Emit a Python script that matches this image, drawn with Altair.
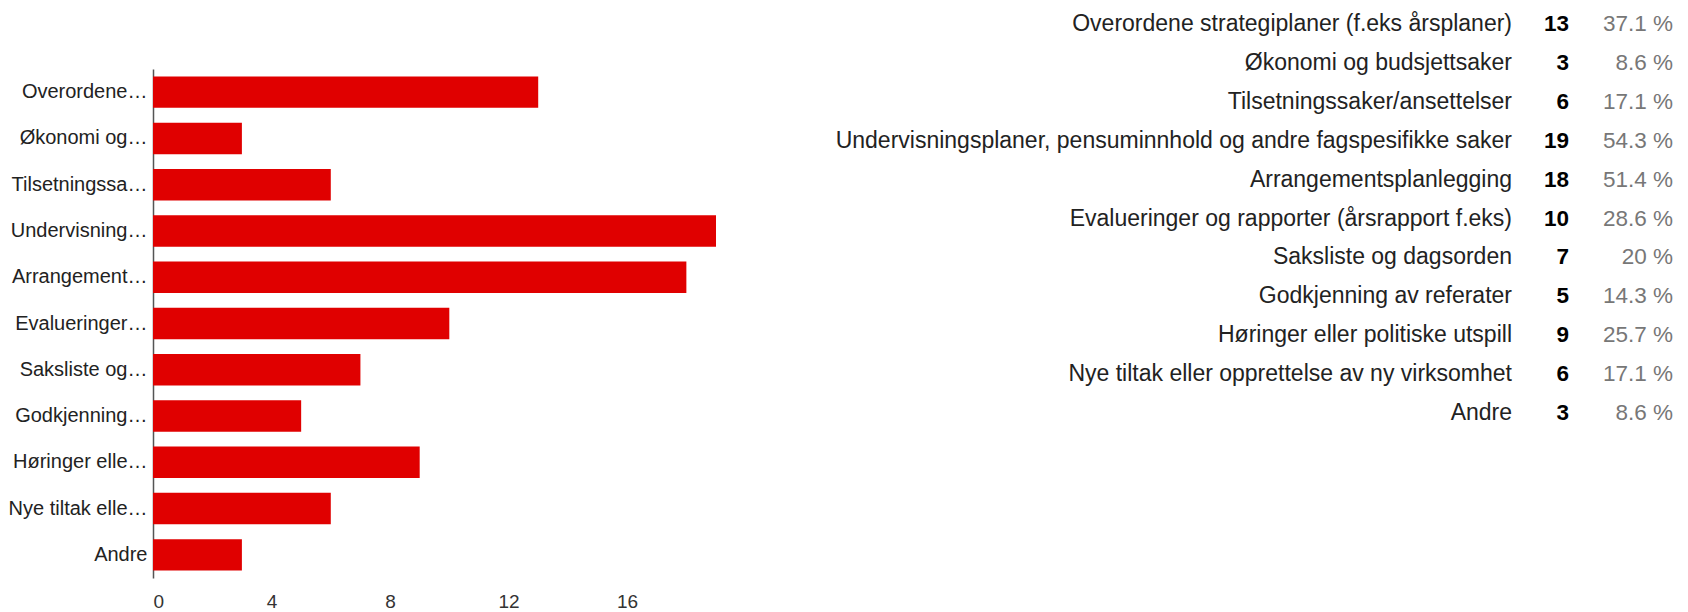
import altair as alt
import pandas as pd

# Data
short_labels = ["Overordene…", "Økonomi og…", "Tilsetningssa…", "Undervisning…",
                "Arrangement…", "Evalueringer…", "Saksliste og…", "Godkjenning…",
                "Høringer elle…", "Nye tiltak elle…", "Andre"]
full_labels = ["Overordene strategiplaner (f.eks årsplaner)",
               "Økonomi og budsjettsaker",
               "Tilsetningssaker/ansettelser",
               "Undervisningsplaner, pensuminnhold og andre fagspesifikke saker",
               "Arrangementsplanlegging",
               "Evalueringer og rapporter (årsrapport f.eks)",
               "Saksliste og dagsorden",
               "Godkjenning av referater",
               "Høringer eller politiske utspill",
               "Nye tiltak eller opprettelse av ny virksomhet",
               "Andre"]
counts = [13, 3, 6, 19, 18, 10, 7, 5, 9, 6, 3]
percents = ["37.1 %", "8.6 %", "17.1 %", "54.3 %", "51.4 %", "28.6 %",
            "20 %", "14.3 %", "25.7 %", "17.1 %", "8.6 %"]
x_ticks = [0, 4, 8, 12, 16]

df = pd.DataFrame({"short": short_labels, "label": full_labels,
                   "count": counts, "pct": percents})

FONT = "Liberation Sans"

bars = alt.Chart(df).mark_bar(color="#e00000").encode(
    x=alt.X("count:Q", title=None,
            scale=alt.Scale(domain=[0, 19], nice=False),
            axis=alt.Axis(values=x_ticks, grid=False, domain=False, ticks=False,
                          labelFontSize=19, labelColor="#333333", labelFont=FONT,
                          labelPadding=14)),
    y=alt.Y("short:N", title=None, sort=short_labels,
            scale=alt.Scale(paddingInner=0.32, paddingOuter=0.16),
            axis=alt.Axis(domain=True, domainColor="#555555", domainWidth=1.5,
                          ticks=False, labelFontSize=20, labelColor="#222222",
                          labelFont=FONT, labelPadding=6, minExtent=145,
                          maxExtent=145, labelLimit=0)),
).properties(width=563, height=509,
             title=alt.TitleParams(text=" ", fontSize=10, offset=51))

ybase = alt.Y("label:N", sort=full_labels, axis=None,
              scale=alt.Scale(type="point", padding=0.334))

SHIFT = -58
base = alt.Chart(df).encode(y=ybase)
t_label = base.mark_text(align="right", baseline="middle", fontSize=23,
                         font=FONT, color="#222222", dy=SHIFT).encode(
    x=alt.value(772), text="label:N")
t_count = base.mark_text(align="right", baseline="middle", fontSize=22.5,
                         font=FONT, fontWeight="bold", color="#000000",
                         dy=SHIFT).encode(
    x=alt.value(829), text="count:Q")
t_pct = base.mark_text(align="right", baseline="middle", fontSize=22.5,
                       font=FONT, color="#777777", dy=SHIFT).encode(
    x=alt.value(933), text="pct:N")

table = alt.layer(t_label, t_count, t_pct).properties(width=935, height=415)

chart = alt.hconcat(bars, table, spacing=24).properties(padding=0).configure_view(
    strokeWidth=0)

chart.save("out.html", embed_options={"renderer": "svg", "actions": False})
